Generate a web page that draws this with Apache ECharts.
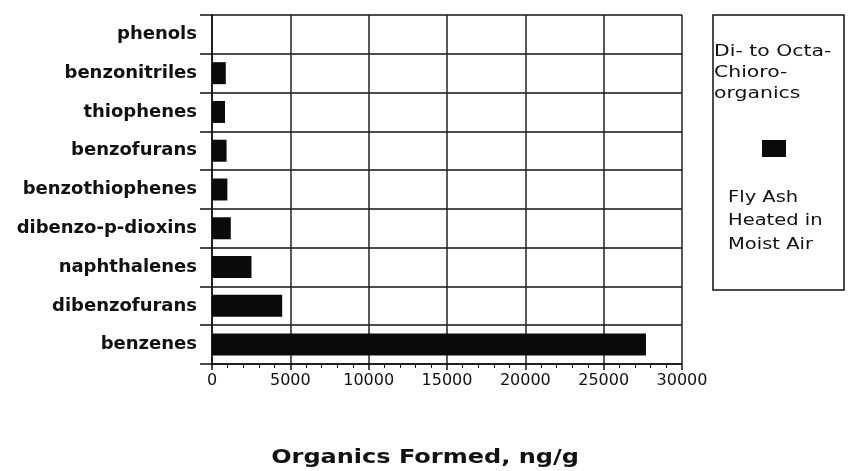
<!DOCTYPE html>
<html>
<head>
<meta charset="utf-8">
<script src="https://cdn.jsdelivr.net/npm/echarts@6/dist/echarts.min.js"></script>
<style>
html,body{margin:0;padding:0;background:#fff;}
#chart{width:849px;height:471px;}
</style>
</head>
<body>
<div id="chart"></div>
<script>
const categories = ['phenols','benzonitriles','thiophenes','benzofurans','benzothiophenes','dibenzo-p-dioxins','naphthalenes','dibenzofurans','benzenes'];
const values = [0, 880, 830, 930, 980, 1200, 2520, 4480, 27700];
const xTicks = [0, 5000, 10000, 15000, 20000, 25000, 30000];
const seriesName = 'Fly Ash Heated in Moist Air';
const legendTitleLines = ['Di- to Octa-', 'Chioro-', 'organics'];
const legendLabelLines = ['Fly Ash', 'Heated in', 'Moist Air'];
const axisTitle = 'Organics Formed, ng/g';

const chart = echarts.init(document.getElementById('chart'), null, {renderer: 'canvas'});
const lineColor = '#111';
const graphics = [
  {type: 'rect', shape: {x: 713, y: 15, width: 131, height: 275},
   style: {fill: 'none', stroke: lineColor, lineWidth: 1.5}},
  {type: 'rect', shape: {x: 762, y: 140, width: 24, height: 17},
   style: {fill: '#0a0a0a'}}
];
legendTitleLines.forEach((t, i) => {
  graphics.push({type: 'text', x: 714, y: 52 + i * 21, scaleX: 1.36,
    style: {text: t, fontFamily: 'DejaVu Sans', fontSize: 15, fill: '#111', verticalAlign: 'middle', align: 'left'}});
});
legendLabelLines.forEach((t, i) => {
  graphics.push({type: 'text', x: 728, y: 198 + i * 23.5, scaleX: 1.3,
    style: {text: t, fontFamily: 'DejaVu Sans', fontSize: 15, fill: '#111', verticalAlign: 'middle', align: 'left'}});
});
graphics.push({type: 'text', x: 425, y: 458, scaleX: 1.2,
  style: {text: axisTitle, fontFamily: 'DejaVu Sans', fontWeight: 'bold', fontSize: 20, fill: '#111', align: 'center', verticalAlign: 'middle'}});

chart.setOption({
  animation: false,
  backgroundColor: '#fff',
  grid: {left: 212, right: 167, top: 15, bottom: 107, containLabel: false},
  xAxis: {
    type: 'value', min: xTicks[0], max: xTicks[xTicks.length - 1], interval: 5000,
    axisLine: {show: true, lineStyle: {color: lineColor, width: 1.5}},
    axisTick: {show: true, length: 6, lineStyle: {color: lineColor, width: 1.5}},
    minorTick: {show: true, splitNumber: 5, length: 4, lineStyle: {color: lineColor, width: 1}},
    splitLine: {show: true, lineStyle: {color: '#222', width: 1.5}},
    axisLabel: {fontFamily: 'DejaVu Sans', fontSize: 16, color: '#111', margin: 9,
      formatter: v => String(v)}
  },
  yAxis: {
    type: 'category', data: categories, inverse: true,
    axisLine: {show: true, lineStyle: {color: lineColor, width: 1.5}},
    axisTick: {show: true, length: 12, alignWithLabel: false, lineStyle: {color: lineColor, width: 1.5}},
    splitLine: {show: true, lineStyle: {color: lineColor, width: 1.5}},
    axisLabel: {fontFamily: 'DejaVu Sans', fontWeight: 'bold', fontSize: 18, color: '#111', margin: 15}
  },
  series: [{
    name: seriesName, type: 'bar', data: values, barWidth: 22,
    itemStyle: {color: '#0a0a0a'}
  }],
  graphic: graphics
});
</script>
</body>
</html>
